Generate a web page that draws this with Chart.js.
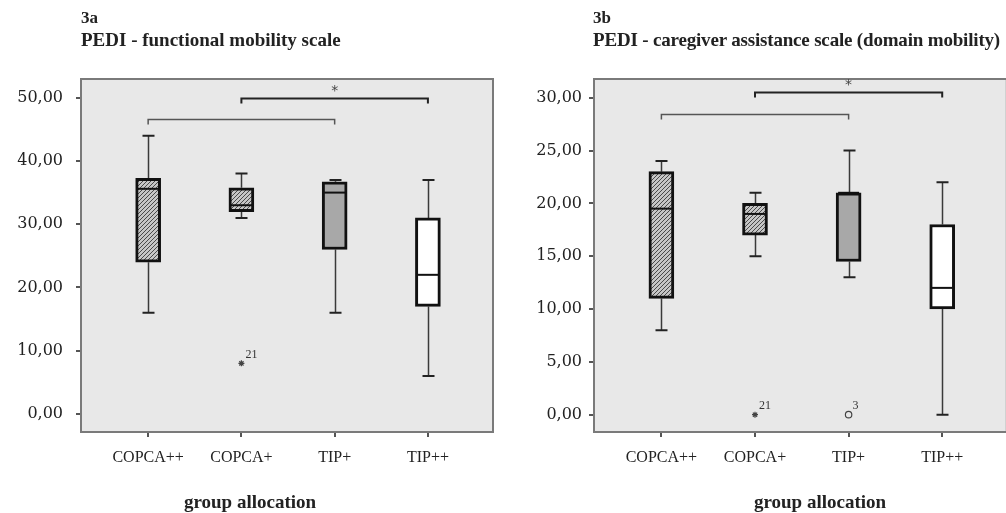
<!DOCTYPE html>
<html>
<head>
<meta charset="utf-8">
<script src="https://cdn.jsdelivr.net/npm/chart.js@4.4.0/dist/chart.umd.min.js"></script>
<style>
  body { margin: 0; width: 1006px; height: 513px; overflow: hidden; background: #fff; position: relative; font-family: "Liberation Serif", serif; color: #222; }
  .panel { position: absolute; top: 0; height: 513px; }
  .panel canvas { position: absolute; left: 0; top: 0; }
  .fig { position: absolute; font-weight: bold; font-size: 17px; line-height: 17px; top: 9px; white-space: nowrap; }
  .ttl { position: absolute; font-weight: bold; font-size: 19px; line-height: 19px; top: 30px; white-space: nowrap; }
  .xt { position: absolute; font-weight: bold; font-size: 19px; line-height: 19px; top: 492px; width: 240px; text-align: center; }
</style>
</head>
<body>
<div class="panel" style="left:0;width:500px">
  <canvas id="mobility" width="500" height="513"></canvas>
</div>
<div class="panel" style="left:500px;width:512px">
  <canvas id="caregiver" width="512" height="513"></canvas>
</div>
<div class="fig" style="left:81px">3a</div>
<div class="ttl" style="left:81px">PEDI - functional mobility scale</div>
<div class="xt" style="left:130px">group allocation</div>
<div class="fig" style="left:593px">3b</div>
<div class="ttl" style="left:593px;letter-spacing:-0.18px">PEDI - caregiver assistance scale (domain mobility)</div>
<div class="xt" style="left:700px">group allocation</div>

<script>
const groups = ['COPCA++', 'COPCA+', 'TIP+', 'TIP++'];

// 3a - functional mobility scale
const mobMin = [16, 31, 16, 6];
const mobQ1 = [24, 32, 26, 17];
const mobMed = [35.6, 33, 35, 22];
const mobQ3 = [37.25, 35.75, 36.7, 31];
const mobMax = [44, 38, 37, 37];
const mobTicks = [0, 10, 20, 30, 40, 50];
const mobOutGroup = [1];
const mobOutValue = [8];
const mobOutCase = ['21'];
const mobOutKind = ['star'];
const mobBrFrom = [0, 1];
const mobBrTo = [2, 3];
const mobBrY = [46.7, 50];
const mobBrMark = ['', '*'];

// 3b - caregiver assistance scale (domain mobility)
const caMin = [8, 15, 13, 0];
const caQ1 = [11, 17, 14.5, 10];
const caMed = [19.5, 19, 21, 12];
const caQ3 = [23, 20, 21, 18];
const caMax = [24, 21, 25, 22];
const caTicks = [0, 5, 10, 15, 20, 25, 30];
const caOutGroup = [1, 2];
const caOutValue = [0, 0];
const caOutCase = ['21', '3'];
const caOutKind = ['star', 'circle'];
const caBrFrom = [0, 1];
const caBrTo = [2, 3];
const caBrY = [28.5, 30.5];
const caBrMark = ['', '*'];

// diagonal hatching used for the COPCA boxes
function hatchPattern() {
  const c = document.createElement('canvas');
  c.width = 4; c.height = 4;
  const g = c.getContext('2d');
  g.fillStyle = '#c6c6c6';
  g.fillRect(0, 0, 4, 4);
  g.strokeStyle = '#4a4a4a';
  g.lineWidth = 1;
  g.beginPath();
  g.moveTo(0, 4); g.lineTo(4, 0);
  g.moveTo(-1, 1); g.lineTo(1, -1);
  g.moveTo(3, 5); g.lineTo(5, 3);
  g.stroke();
  return g.createPattern(c, 'repeat');
}
const hatch = hatchPattern();

function boxPlugin(d) {
  return {
    id: 'boxPlot',
    beforeDraw(chart) {
      const { ctx, chartArea: a } = chart;
      ctx.save();
      ctx.fillStyle = '#e8e8e8';
      ctx.fillRect(a.left, a.top, a.right - a.left, a.bottom - a.top);
      ctx.restore();
    },
    beforeDatasetsDraw(chart) {
      const { ctx, chartArea: a, scales: { x, y } } = chart;
      ctx.save();
      ctx.strokeStyle = '#7a7a7a';
      ctx.lineWidth = 2;
      ctx.strokeRect(a.left, a.top, a.right - a.left, a.bottom - a.top);
      // whiskers
      d.min.forEach((lo, i) => {
        const cx = Math.round(x.getPixelForValue(i)) + 0.5;
        ctx.strokeStyle = '#3a3a3a';
        ctx.lineWidth = 1.5;
        ctx.beginPath();
        ctx.moveTo(cx, y.getPixelForValue(d.max[i]));
        ctx.lineTo(cx, y.getPixelForValue(d.q3[i]));
        ctx.moveTo(cx, y.getPixelForValue(d.q1[i]));
        ctx.lineTo(cx, y.getPixelForValue(lo));
        ctx.stroke();
        ctx.strokeStyle = '#222';
        ctx.lineWidth = 2;
        ctx.beginPath();
        [lo, d.max[i]].forEach(v => {
          const py = y.getPixelForValue(v);
          ctx.moveTo(cx - 6, py);
          ctx.lineTo(cx + 6, py);
        });
        ctx.stroke();
      });
      ctx.restore();
    },
    afterDatasetsDraw(chart) {
      const { ctx, scales: { x, y } } = chart;
      const bars = chart.getDatasetMeta(0).data;
      ctx.save();
      // medians
      ctx.strokeStyle = '#111';
      ctx.lineWidth = 2;
      d.med.forEach((m, i) => {
        const b = bars[i];
        const py = y.getPixelForValue(m);
        ctx.beginPath();
        ctx.moveTo(b.x - b.width / 2 + 2, py);
        ctx.lineTo(b.x + b.width / 2 - 2, py);
        ctx.stroke();
      });
      // case numbers next to outliers
      ctx.fillStyle = '#333';
      ctx.font = '12px "Liberation Serif"';
      ctx.textBaseline = 'middle';
      d.outCase.forEach((c, i) => {
        ctx.fillText(c, x.getPixelForValue(d.outGroup[i]) + 4, y.getPixelForValue(d.outValue[i]) - 9);
      });
      // significance brackets
      d.brY.forEach((v, i) => {
        const x0 = x.getPixelForValue(d.brFrom[i]);
        const x1 = x.getPixelForValue(d.brTo[i]);
        const py = Math.round(y.getPixelForValue(v)) + 0.5;
        ctx.strokeStyle = d.brMark[i] ? '#222' : '#555';
        ctx.lineWidth = d.brMark[i] ? 2 : 1.5;
        ctx.beginPath();
        ctx.moveTo(x0, py + 5);
        ctx.lineTo(x0, py);
        ctx.lineTo(x1, py);
        ctx.lineTo(x1, py + 5);
        ctx.stroke();
        if (d.brMark[i]) {
          ctx.fillStyle = '#444';
          ctx.font = '14px "DejaVu Sans"';
          ctx.textAlign = 'center';
          ctx.fillText(d.brMark[i], (x0 + x1) / 2, py - 7);
          ctx.textAlign = 'left';
        }
      });
      ctx.restore();
    }
  };
}

function makeChart(id, d, lay) {
  return new Chart(document.getElementById(id), {
    type: 'bar',
    data: {
      datasets: [{
        data: d.q1.map((v, i) => ({ x: i, y: [v, d.q3[i]] })),
        backgroundColor: [hatch, hatch, '#a8a8a8', '#ffffff'],
        borderColor: '#111',
        borderWidth: 3,
        borderSkipped: false,
        barThickness: 25,
        order: 2
      }, {
        type: 'scatter',
        data: d.outValue.map((v, i) => ({ x: d.outGroup[i], y: v })),
        pointStyle: d.outKind,
        pointRadius: d.outKind.map(k => k === 'star' ? 3 : 3.2),
        borderColor: '#444',
        backgroundColor: 'rgba(0,0,0,0)',
        borderWidth: 1.2,
        order: 1
      }]
    },
    options: {
      responsive: false,
      animation: false,
      layout: { padding: { top: 79, right: lay.right, bottom: 0, left: 0 } },
      plugins: { legend: { display: false }, tooltip: { enabled: false } },
      scales: {
        x: {
          type: 'linear',
          offset: false,
          min: -0.72,
          max: lay.xMax,
          afterBuildTicks: s => { s.ticks = groups.map((g, i) => ({ value: i })); },
          afterFit: s => { s.height = 81; },
          border: { display: false },
          grid: { offset: false, drawOnChartArea: false, drawTicks: true, tickLength: 5, color: '#555', lineWidth: 2 },
          ticks: {
            callback: v => groups[v] ?? '',
            font: { family: 'Liberation Serif', size: 16 },
            color: '#222',
            padding: 11,
            maxRotation: 0
          }
        },
        y: {
          min: lay.yMin,
          max: lay.yMax,
          afterBuildTicks: s => { s.ticks = d.ticks.map(v => ({ value: v })); },
          afterFit: s => { s.width = lay.yWidth; },
          border: { display: false },
          grid: { drawOnChartArea: false, drawTicks: true, tickLength: 5, color: '#555', lineWidth: 2 },
          ticks: {
            callback: v => v.toFixed(2).replace('.', ','),
            font: { family: 'DejaVu Serif', size: 16 },
            color: '#222',
            padding: lay.tickPad
          }
        }
      }
    },
    plugins: [boxPlugin(d)]
  });
}

makeChart('mobility', {
  min: mobMin, q1: mobQ1, med: mobMed, q3: mobQ3, max: mobMax, ticks: mobTicks,
  outGroup: mobOutGroup, outValue: mobOutValue, outCase: mobOutCase, outKind: mobOutKind,
  brFrom: mobBrFrom, brTo: mobBrTo, brY: mobBrY, brMark: mobBrMark
}, { yMin: -2.85, yMax: 52.96, yWidth: 81, tickPad: 13, right: 7, xMax: 3.698 });

makeChart('caregiver', {
  min: caMin, q1: caQ1, med: caMed, q3: caQ3, max: caMax, ticks: caTicks,
  outGroup: caOutGroup, outValue: caOutValue, outCase: caOutCase, outKind: caOutKind,
  brFrom: caBrFrom, brTo: caBrTo, brY: caBrY, brMark: caBrMark
}, { yMin: -1.64, yMax: 31.77, yWidth: 94, tickPad: 7, right: 0, xMax: 3.69 });
</script>
</body>
</html>
